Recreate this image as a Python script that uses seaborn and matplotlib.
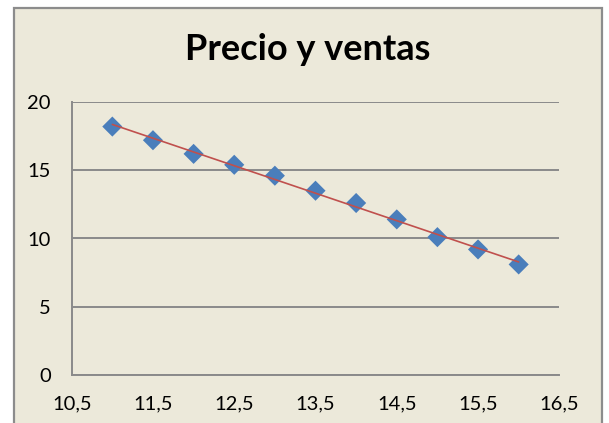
import numpy as np
import pandas as pd
import matplotlib
matplotlib.use("Agg")
import matplotlib.pyplot as plt
import seaborn as sns
from matplotlib.patches import Rectangle

# datos: precio (x) y ventas (y)
precio = [11, 11.5, 12, 12.5, 13, 13.5, 14, 14.5, 15, 15.5, 16]
ventas = [18.2, 17.2, 16.2, 15.4, 14.6, 13.5, 12.6, 11.4, 10.1, 9.2, 8.1]
xticks = [10.5, 11.5, 12.5, 13.5, 14.5, 15.5, 16.5]
yticks = [0, 5, 10, 15, 20]

df = pd.DataFrame({"precio": precio, "ventas": ventas})

sns.set_style("white")
plt.rcParams['font.family'] = ['Lato', 'DejaVu Sans']

bg = "#ECE9DA"
fig = plt.figure(figsize=(6.09, 4.23), dpi=100)
fig.patch.set_facecolor("white")
# marco del grafico tipo Excel
marco = Rectangle((14 / 609, -0.05), 588 / 609, 1.05 - 8 / 423,
                  transform=fig.transFigure, facecolor=bg,
                  edgecolor="#8C8C8C", linewidth=1.6, zorder=-5)
fig.add_artist(marco)

ax = fig.add_axes([71.7 / 609, 48 / 423, 487.6 / 609, 273 / 423])
ax.set_facecolor("none")

sns.regplot(data=df, x="precio", y="ventas", ax=ax, ci=None, marker="D",
            scatter_kws={"s": 105, "color": "#4A7EBB", "edgecolors": "none",
                         "alpha": 1, "zorder": 3},
            line_kws={"color": "#C0504D", "linewidth": 1.2, "zorder": 4})

ax.set_xlim(10.5, 16.5)
ax.set_ylim(0, 20)
ax.set_xticks(xticks)
ax.set_xticklabels([f"{t:.1f}".replace(".", ",") for t in xticks])
ax.set_yticks(yticks)
ax.set_xlabel("")
ax.set_ylabel("")
ax.yaxis.grid(True, color="#8A8A8A", linewidth=1.4)
ax.xaxis.grid(False)
ax.set_axisbelow(True)

for s in ["top", "right"]:
    ax.spines[s].set_visible(False)
for s in ["left", "bottom"]:
    ax.spines[s].set_color("#8A8A8A")
    ax.spines[s].set_linewidth(1.4)

ax.tick_params(axis="both", direction="out", length=5, width=1.2,
               color="#8A8A8A", labelsize=14.5, labelcolor="black", pad=10)
ax.tick_params(axis="y", pad=10)

fig.text(308 / 609, 1 - 60 / 423, "Precio y ventas", ha="center",
         va="baseline", fontsize=26, fontweight="bold", color="black")

fig.savefig("out.png", dpi=100, facecolor=fig.get_facecolor())
